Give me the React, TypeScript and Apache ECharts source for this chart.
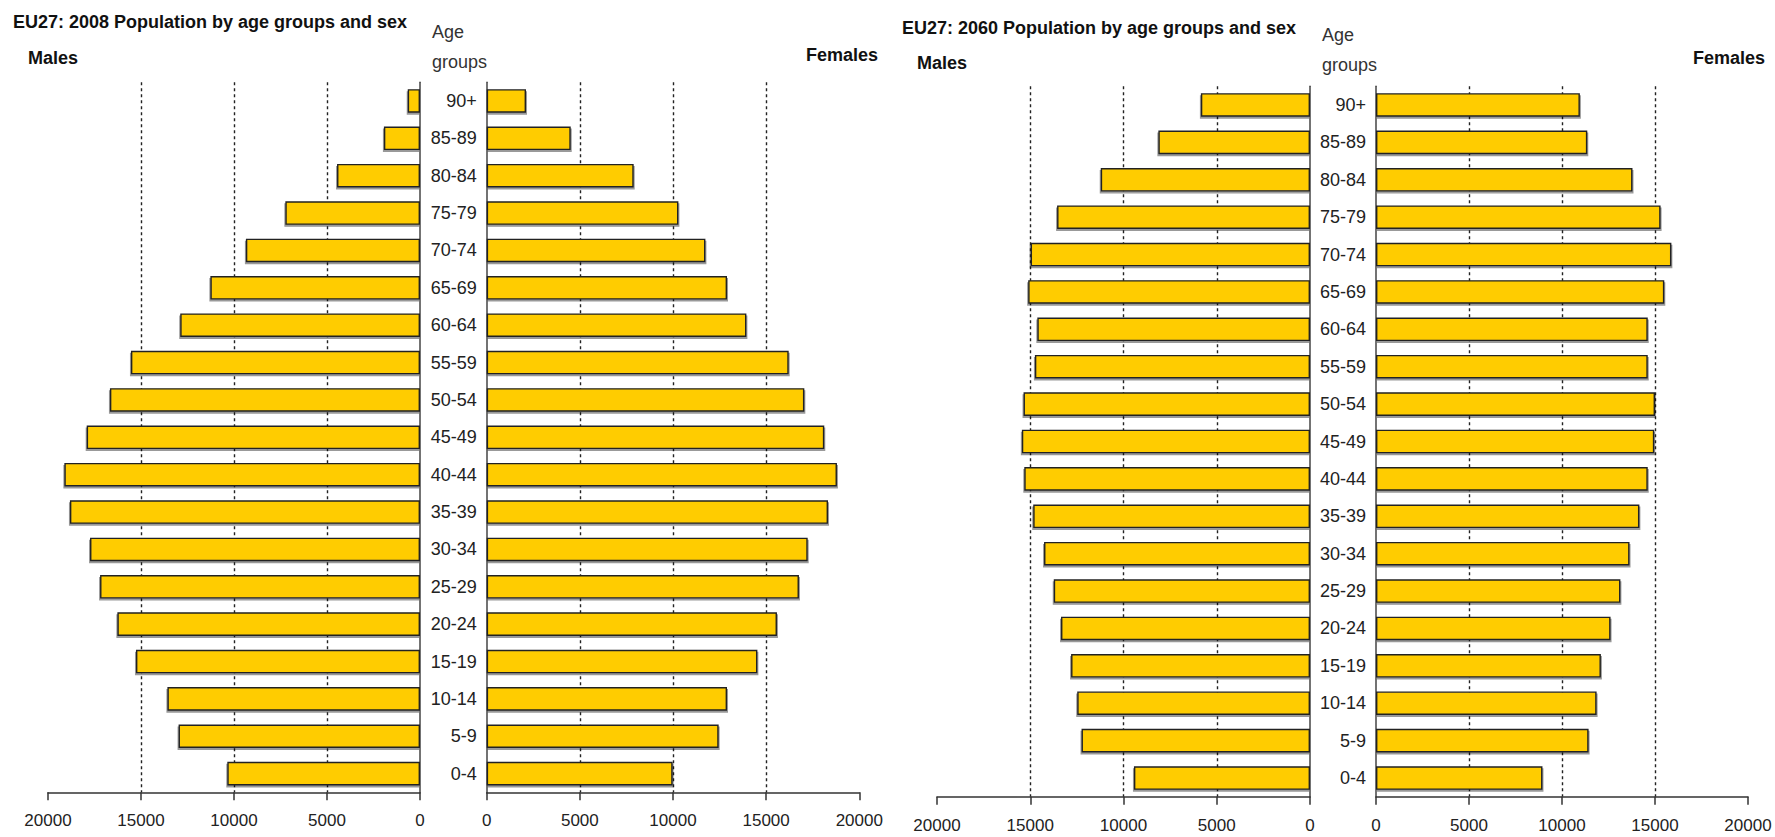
import React, { useEffect, useRef } from 'react';
import * as echarts from 'echarts';

const ageGroups = ['0-4', '5-9', '10-14', '15-19', '20-24', '25-29', '30-34', '35-39', '40-44', '45-49', '50-54', '55-59', '60-64', '65-69', '70-74', '75-79', '80-84', '85-89', '90+'];
const males2008 = [10360, 12980, 13580, 15270, 16270, 17200, 17740, 18820, 19120, 17920, 16670, 15540, 12890, 11270, 9360, 7240, 4460, 1940, 660];
const females2008 = [9980, 12450, 12900, 14530, 15580, 16760, 17230, 18320, 18800, 18120, 17050, 16210, 13940, 12900, 11740, 10290, 7890, 4510, 2110];
const males2060 = [9440, 12250, 12480, 12810, 13350, 13740, 14260, 14840, 15320, 15450, 15360, 14750, 14620, 15110, 14980, 13560, 11220, 8130, 5850];
const females2060 = [8950, 11430, 11860, 12090, 12610, 13140, 13630, 14160, 14610, 14960, 15000, 14610, 14610, 15500, 15880, 15300, 13790, 11360, 10960];

const title2008 = 'EU27: 2008 Population by age groups and sex';
const title2060 = 'EU27: 2060 Population by age groups and sex';
const xMax = 20000;
const xStep = 5000;

const FONT = 'Liberation Sans, Arial, sans-serif';
const BAR = '#FFCC00';

export default function App() {
  const ref = useRef<HTMLDivElement>(null);
  useEffect(() => {
    if (!ref.current) return;
    const chart = echarts.init(ref.current, undefined, { renderer: 'svg' });
    const grids = [
      { left: 48, top: 82.3, width: 372, height: 710 },
      { left: 486.7, top: 82.3, width: 372.6, height: 710 },
      { left: 937, top: 86.3, width: 373, height: 710.4 },
      { left: 1376, top: 86.3, width: 372, height: 710.4 },
    ];
    const xAxes = grids.map((_, i) => ({
      type: 'value',
      gridIndex: i,
      min: 0,
      max: xMax,
      interval: xStep,
      inverse: i % 2 === 0,
      axisLine: { show: true, lineStyle: { color: '#333', width: 1.5 } },
      axisTick: { show: true, length: 8, lineStyle: { color: '#333', width: 1.5 } },
      axisLabel: {
        fontFamily: FONT,
        fontSize: 17,
        color: '#222',
        margin: 20,
        formatter: (v: number) => String(v),
      },
      splitLine: {
        show: true,
        showMinLine: false,
        showMaxLine: false,
        lineStyle: { color: '#222', type: [3, 3], width: 1.4 },
      },
    }));
    const yAxes = grids.map((_, i) => ({
      type: 'category',
      gridIndex: i,
      data: ageGroups,
      position: i % 2 === 0 ? 'right' : 'left',
      axisLine: { show: true, lineStyle: { color: '#444', width: 1.5 } },
      axisTick: { show: false },
      axisLabel: {
        show: i % 2 === 1,
        fontFamily: FONT,
        fontSize: 18,
        color: '#222',
        margin: 10,
      },
      splitLine: { show: false },
    }));
    const datasets = [males2008, females2008, males2060, females2060];
    const series = datasets.map((d, i) => ({
      type: 'bar',
      xAxisIndex: i,
      yAxisIndex: i,
      data: d,
      barCategoryGap: '37%',
      itemStyle: {
        color: BAR,
        borderColor: '#222',
        borderWidth: 1.4,
        shadowColor: 'rgba(0,0,0,0.4)',
        shadowOffsetX: i % 2 === 0 ? -1 : 1,
        shadowOffsetY: 2,
        shadowBlur: 1.5,
      },
      emphasis: { disabled: true },
    }));
    const txt = (x: number, y: number, text: string, bold: boolean, align = 'left') => ({
      type: 'text',
      x,
      y,
      style: {
        text,
        fontFamily: FONT,
        fontSize: 18,
        fontWeight: bold ? 'bold' : 'normal',
        fill: bold ? '#111' : '#333',
        align,
        verticalAlign: 'middle',
      },
    });
    chart.setOption({
      animation: false,
      backgroundColor: '#fff',
      grid: grids,
      xAxis: xAxes,
      yAxis: yAxes,
      series,
      graphic: [
        txt(13, 22, title2008, true),
        txt(28, 58, 'Males', true),
        txt(878, 55, 'Females', true, 'right'),
        txt(432, 32, 'Age', false),
        txt(432, 62, 'groups', false),
        txt(902, 28, title2060, true),
        txt(917, 63, 'Males', true),
        txt(1765, 58, 'Females', true, 'right'),
        txt(1322, 35, 'Age', false),
        txt(1322, 65, 'groups', false),
      ],
    });
    return () => chart.dispose();
  }, []);
  return (
    <div
      ref={ref}
      style={{ position: 'fixed', left: 0, top: 0, width: 1775, height: 837, background: '#fff' }}
    />
  );
}
